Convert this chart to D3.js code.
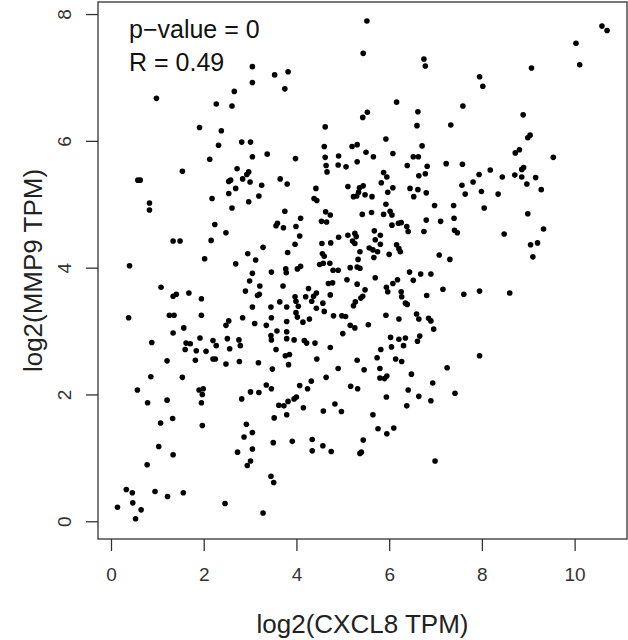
<!DOCTYPE html>
<html>
<head>
<meta charset="utf-8">
<script src="https://cdn.jsdelivr.net/npm/d3@7"></script>
<style>
  body { margin: 0; background: #fff; }
  svg { display: block; font-family: "Liberation Sans", Arial, sans-serif; }
</style>
</head>
<body>
<svg id="chart"></svg>
<script>
// log2(CXCL8 TPM) / log2(MMP9 TPM), one entry per sample
const cxcl8 = [
  3.05,3.05,0.98,2.66,2.27,2.61,1.91,2.38,
  5.52,5.44,6.75,6.78,3.53,3.82,3.75,6.16,5.53,5.43,6.62,6.60,4.62,
  10.59,10.70,10.03,10.11,9.07,7.95,8.02,7.59,8.89,7.33,9.04,8.99,
  2.32,2.82,3.01,2.13,3.05,3.37,1.54,0.58,0.63,2.72,2.97,2.93,2.84,3.00,2.58,2.54,3.25,2.69,2.18,2.54,3.19,2.97,0.83,0.83,2.61,2.24,2.48,1.34,1.49,2.16,3.28,2.95,2.02,2.69,3.12,0.40,3.05,
  3.98,4.60,4.62,4.64,4.66,4.91,4.90,5.07,5.20,5.31,5.93,5.50,5.66,5.31,6.08,6.71,6.52,6.63,6.39,6.82,6.78,6.64,5.88,5.95,5.83,6.08,5.97,6.45,6.62,6.53,6.80,6.98,
  3.65,3.80,4.42,4.38,4.44,5.11,5.36,5.44,5.34,5.23,5.30,5.48,5.63,5.93,3.75,4.09,4.63,4.73,4.54,4.65,5.42,5.62,5.88,6.02,6.06,6.06,6.20,6.26,6.38,6.41,6.80,7.11,6.75,
  3.59,3.56,3.72,3.99,4.07,3.97,3.81,4.55,4.74,4.91,5.11,5.26,5.29,5.21,5.26,5.37,5.68,5.81,5.70,5.81,5.57,5.65,5.75,5.67,6.00,6.16,6.21,6.24,7.08,
  4.56,4.60,4.50,4.58,4.72,4.79,4.90,5.16,5.31,5.37,5.33,4.02,4.09,3.77,3.78,3.46,6.44,6.68,6.90,
  8.72,8.81,9.54,7.23,7.58,7.94,8.18,7.81,7.57,8.44,8.71,8.86,8.90,8.86,9.16,8.97,9.28,7.99,7.64,8.35,7.39,8.05,7.40,7.41,7.47,8.99,9.33,8.48,9.05,9.20,9.10,7.31,
  2.99,3.21,2.90,3.16,3.20,1.08,1.34,1.41,1.68,1.95,3.05,0.38,1.26,1.36,1.95,2.84,2.54,2.48,3.10,3.35,1.57,1.34,0.88,1.62,1.71,1.60,1.92,1.84,2.05,2.20,2.27,2.51,2.56,2.76,2.79,
  2.20,2.25,1.82,1.21,2.48,2.77,3.18,0.86,1.54,0.57,1.90,1.99,1.97,0.79,1.21,1.95,2.82,3.01,3.19,3.35,
  3.71,4.26,4.69,4.78,5.09,5.31,5.48,5.70,5.94,5.97,6.08,6.18,6.26,6.27,6.52,6.81,7.16,3.97,4.20,4.37,4.43,4.33,4.73,3.99,4.04,3.64,3.45,3.79,4.43,4.57,4.60,5.43,5.39,5.27,5.23,6.35,6.39,
  3.99,4.02,3.46,3.79,4.14,4.28,4.80,4.98,5.06,5.16,5.26,5.55,5.93,6.21,6.59,6.64,6.85,6.90,6.96,3.58,3.45,3.46,3.79,3.79,3.95,4.17,4.22,4.40,5.00,4.73,3.56,3.76,3.85,3.83,4.44,3.48,
  6.03,6.21,6.35,6.05,6.31,6.66,6.61,5.82,5.31,5.74,6.14,6.27,4.90,5.46,5.80,6.48,5.95,5.90,5.80,4.64,4.32,4.07,4.24,3.46,5.17,5.32,6.41,6.94,5.94,6.64,6.90,
  4.00,3.95,3.82,3.62,3.73,4.15,4.58,4.83,4.97,6.38,
  7.61,7.95,8.60,7.95,7.25,7.42,
  1.33,1.07,1.97,2.92,3.05,2.87,1.03,1.34,2.73,3.05,3.01,2.94,0.78,0.33,0.46,0.95,1.22,1.56,0.14,0.47,0.65,0.53,2.46,3.28,
  3.52,3.79,5.65,3.50,3.91,4.34,4.34,4.57,4.75,5.44,5.40,5.37,5.76,5.95,6.10,6.99,3.45,3.51
];
const mmp9 = [
  7.17,6.92,6.67,6.78,6.58,6.55,6.21,6.16,
  7.89,7.38,7.29,7.18,7.04,7.09,6.82,6.61,6.45,6.37,6.46,6.24,6.22,
  7.81,7.74,7.54,7.20,7.15,7.01,6.86,6.55,6.41,6.25,6.09,6.05,
  5.93,5.98,5.98,5.71,5.75,5.79,5.52,5.38,5.38,5.56,5.51,5.47,5.40,5.35,5.38,5.36,5.30,5.25,5.09,5.17,5.13,5.04,5.02,4.91,4.94,4.68,4.55,4.42,4.42,4.43,4.32,4.22,4.14,4.06,4.12,4.03,3.91,
  5.72,5.91,5.74,5.61,5.51,5.76,5.62,5.59,5.91,5.94,6.03,5.82,5.75,5.67,5.80,5.92,5.75,5.75,5.61,5.60,5.48,5.45,5.50,5.43,5.34,5.26,5.19,5.25,5.23,5.12,5.18,4.98,
  5.40,5.32,5.25,5.09,5.06,5.28,5.26,5.29,5.19,5.12,5.13,5.15,5.12,5.00,4.89,4.78,4.88,4.83,4.73,4.72,4.84,4.87,4.84,4.89,4.83,4.67,4.70,4.71,4.65,4.57,4.75,4.73,4.57,
  4.70,4.66,4.63,4.65,4.50,4.37,4.24,4.38,4.39,4.48,4.51,4.54,4.49,4.42,4.38,4.25,4.58,4.51,4.44,4.37,4.31,4.28,4.25,4.16,4.21,4.36,4.30,4.25,4.20,
  4.22,4.18,4.05,4.07,4.07,3.96,3.96,4.00,4.01,3.99,4.13,3.98,4.02,3.98,3.92,3.93,3.93,3.90,3.90,
  5.81,5.86,5.74,5.64,5.63,5.47,5.54,5.35,5.30,5.43,5.46,5.55,5.58,5.43,5.42,5.32,5.23,5.20,5.16,5.16,4.98,4.94,4.78,4.59,4.55,4.85,4.61,4.53,4.36,4.39,4.17,4.13,
  3.79,3.71,3.63,3.56,3.58,3.69,3.55,3.58,3.60,3.51,3.38,3.21,3.25,3.25,3.25,3.21,3.16,3.09,3.12,3.09,3.05,2.97,2.82,2.81,2.80,2.71,2.89,2.69,2.68,2.85,2.77,2.88,2.72,2.86,2.77,
  2.56,2.56,2.54,2.53,2.48,2.52,2.50,2.28,2.27,2.07,2.07,2.09,2.00,1.87,1.91,1.87,1.93,2.04,2.03,2.15,
  3.71,3.67,3.75,3.76,3.81,3.74,3.65,3.84,3.69,3.62,3.75,3.81,3.62,3.54,3.80,3.56,3.66,3.54,3.54,3.55,3.60,3.47,3.57,3.47,3.39,3.46,3.38,3.38,3.36,3.44,3.31,3.55,3.52,3.46,3.40,3.44,3.42,
  3.29,3.22,3.21,3.15,3.14,3.19,3.24,3.24,3.23,3.09,3.05,3.10,3.25,3.19,3.27,3.19,3.20,3.16,3.03,3.00,2.93,2.86,2.99,2.88,2.86,2.85,2.81,2.81,2.96,2.74,2.71,2.61,2.63,2.47,2.56,2.40,
  2.90,2.87,2.89,2.75,2.77,2.92,2.84,2.71,2.54,2.58,2.56,2.52,2.41,2.39,2.41,2.32,2.29,2.25,2.26,2.27,2.21,2.14,2.09,2.09,2.13,2.09,2.07,2.18,1.96,1.97,1.90,
  1.96,1.93,1.89,1.83,1.82,1.79,1.74,1.85,1.73,1.82,
  3.58,3.63,3.60,2.61,2.42,2.02,
  1.62,1.55,1.51,1.53,1.40,1.33,1.18,1.05,1.09,1.14,0.95,0.88,0.89,0.50,0.45,0.47,0.39,0.45,0.22,0.29,0.18,0.04,0.28,0.13,
  1.63,1.68,1.68,1.24,1.26,1.29,1.11,1.19,1.10,1.28,1.09,1.07,1.46,1.38,1.47,0.95,0.71,0.61
];
const xTicks = [0, 2, 4, 6, 8, 10];
const yTicks = [0, 2, 4, 6, 8];
const statLines = ['p\u2212value = 0', 'R = 0.49'];
const xTitle = 'log2(CXCL8 TPM)';
const yTitle = 'log2(MMP9 TPM)';

const svgWidth = 628;
const svgHeight = 640;
const margin = { top: 2, right: 1, bottom: 101, left: 98 };
const width = svgWidth - margin.left - margin.right;
const height = svgHeight - margin.top - margin.bottom;

const points = cxcl8.map((x, i) => [x, mmp9[i]]);

const svg = d3.select('#chart')
  .attr('width', svgWidth)
  .attr('height', svgHeight);

const g = svg.append('g')
  .attr('transform', 'translate(' + margin.left + ',' + margin.top + ')');

// R style: 4% padding on each side of the data range
const xScale = d3.scaleLinear().domain([-0.28, 11.13]).range([0, width]);
const yScale = d3.scaleLinear().domain([-0.28, 8.19]).range([height, 0]);

const xAxis = d3.axisBottom(xScale).tickValues(xTicks).tickSize(12).tickPadding(17).tickFormat(d3.format('d'));
const yAxis = d3.axisLeft(yScale).tickValues(yTicks).tickSize(12).tickPadding(10).tickFormat(d3.format('d'));

const gX = g.append('g')
  .attr('class', 'axis')
  .attr('transform', 'translate(0,' + height + ')')
  .call(xAxis);
const gY = g.append('g')
  .attr('class', 'axis')
  .call(yAxis);

[gX, gY].forEach(ax => {
  ax.select('.domain').remove();
  ax.selectAll('.tick line').attr('stroke', '#333').attr('stroke-width', 1.3);
  ax.selectAll('.tick text')
    .attr('fill', '#333')
    .style('font-size', '19px')
    .style('font-family', '"Liberation Sans", Arial, sans-serif');
});

// y labels parallel to axis, as R does by default
gY.selectAll('.tick text')
  .attr('x', null).attr('dy', null)
  .attr('text-anchor', 'middle')
  .attr('transform', 'translate(-27,0) rotate(-90)');

// box
g.append('rect')
  .attr('width', width)
  .attr('height', height)
  .attr('fill', 'none')
  .attr('stroke', '#333')
  .attr('stroke-width', 1.3);

g.selectAll('circle')
  .data(points)
  .enter()
  .append('circle')
  .attr('cx', d => xScale(d[0]))
  .attr('cy', d => yScale(d[1]))
  .attr('r', 2.8)
  .attr('fill', '#000');

g.selectAll('.stat')
  .data(statLines)
  .enter()
  .append('text')
  .attr('class', 'stat')
  .attr('x', 31)
  .attr('y', (d, i) => 36 + i * 33)
  .style('font-size', '25px')
  .attr('fill', '#111')
  .text(d => d);

svg.append('text')
  .attr('x', margin.left + width / 2)
  .attr('y', 633)
  .attr('text-anchor', 'middle')
  .style('font-size', '26px')
  .attr('fill', '#222')
  .text(xTitle);

svg.append('text')
  .attr('transform', 'translate(42,' + (margin.top + height / 2) + ') rotate(-90)')
  .attr('text-anchor', 'middle')
  .style('font-size', '26px')
  .attr('fill', '#222')
  .text(yTitle);
</script>
</body>
</html>
